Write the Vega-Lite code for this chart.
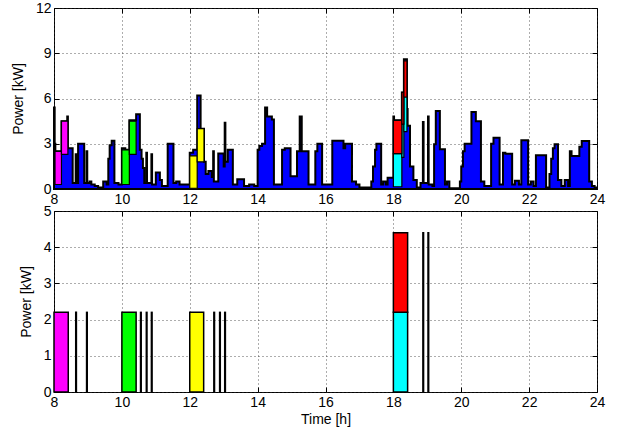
{
  "$schema": "https://vega.github.io/schema/vega-lite/v6.json",
  "padding": {"left": 10, "top": 0, "right": 31, "bottom": 5},
  "autosize": {"type": "pad"},
  "background": "white",
  "config": {
    "font": "Liberation Sans",
    "view": {"stroke": "black", "strokeWidth": 1},
    "axis": {
      "domain": false,
      "tickColor": "black",
      "tickSize": -5,
      "labelPadding": 8,
      "labelFlush": false,
      "labelFontSize": 14,
      "labelColor": "black",
      "labelFont": "Liberation Sans",
      "titleFont": "Liberation Sans",
      "titleFontSize": 14,
      "titleFontWeight": "normal",
      "titleColor": "black",
      "titlePadding": 10,
      "gridColor": "#333333",
      "gridDash": [1, 3],
      "gridOpacity": 0.8
    }
  },
  "datasets": {
    "load": [
      {"t": 8.00, "p": 5.4}, {"t": 8.02, "p": 3.0}, {"t": 8.04, "p": 2.5}, {"t": 8.22, "p": 4.5}, {"t": 8.39, "p": 4.8},
      {"t": 8.41, "p": 2.7}, {"t": 8.55, "p": 0.4}, {"t": 8.64, "p": 2.3}, {"t": 8.66, "p": 0.4}, {"t": 8.71, "p": 3.0},
      {"t": 8.89, "p": 0.4}, {"t": 8.96, "p": 2.5}, {"t": 8.98, "p": 0.4}, {"t": 9.05, "p": 0.5}, {"t": 9.10, "p": 0.3},
      {"t": 9.20, "p": 0.2}, {"t": 9.30, "p": 0.1}, {"t": 9.45, "p": 0.5}, {"t": 9.55, "p": 0.3}, {"t": 9.60, "p": 2.0},
      {"t": 9.64, "p": 2.9}, {"t": 9.70, "p": 3.2}, {"t": 9.78, "p": 0.4}, {"t": 9.90, "p": 0.3}, {"t": 10.00, "p": 2.7},
      {"t": 10.10, "p": 2.6}, {"t": 10.22, "p": 4.55}, {"t": 10.42, "p": 4.95}, {"t": 10.53, "p": 2.6}, {"t": 10.58, "p": 2.0},
      {"t": 10.62, "p": 1.4}, {"t": 10.66, "p": 0.4}, {"t": 10.72, "p": 2.4}, {"t": 10.74, "p": 0.4}, {"t": 10.87, "p": 2.3},
      {"t": 10.89, "p": 0.3}, {"t": 11.00, "p": 1.1}, {"t": 11.12, "p": 0.6}, {"t": 11.18, "p": 0.2}, {"t": 11.35, "p": 3.0},
      {"t": 11.52, "p": 0.4}, {"t": 11.60, "p": 0.5}, {"t": 11.70, "p": 0.3}, {"t": 12.00, "p": 2.4}, {"t": 12.10, "p": 2.6},
      {"t": 12.22, "p": 6.2}, {"t": 12.32, "p": 4.0}, {"t": 12.42, "p": 1.8}, {"t": 12.47, "p": 1.0}, {"t": 12.55, "p": 1.2},
      {"t": 12.65, "p": 0.8}, {"t": 12.69, "p": 2.5}, {"t": 12.71, "p": 0.5}, {"t": 12.84, "p": 2.35}, {"t": 13.00, "p": 1.5},
      {"t": 13.03, "p": 4.4}, {"t": 13.05, "p": 1.8}, {"t": 13.12, "p": 2.6}, {"t": 13.27, "p": 0.3}, {"t": 13.40, "p": 0.65},
      {"t": 13.60, "p": 0.2}, {"t": 13.75, "p": 0.3}, {"t": 13.90, "p": 0.2}, {"t": 14.00, "p": 2.6}, {"t": 14.05, "p": 2.85},
      {"t": 14.13, "p": 3.0}, {"t": 14.22, "p": 5.4}, {"t": 14.28, "p": 4.8}, {"t": 14.42, "p": 4.6}, {"t": 14.48, "p": 0.3},
      {"t": 14.72, "p": 2.6}, {"t": 14.80, "p": 2.7}, {"t": 14.97, "p": 0.85}, {"t": 15.16, "p": 2.5}, {"t": 15.24, "p": 4.8},
      {"t": 15.30, "p": 2.5}, {"t": 15.50, "p": 0.3}, {"t": 15.70, "p": 2.5}, {"t": 15.76, "p": 3.0}, {"t": 15.90, "p": 0.3},
      {"t": 16.20, "p": 3.2}, {"t": 16.53, "p": 2.7}, {"t": 16.58, "p": 3.0}, {"t": 16.78, "p": 0.5}, {"t": 16.90, "p": 0.3},
      {"t": 17.00, "p": 0.1}, {"t": 17.35, "p": 0.5}, {"t": 17.40, "p": 1.5}, {"t": 17.46, "p": 2.6}, {"t": 17.50, "p": 3.0},
      {"t": 17.64, "p": 0.3}, {"t": 17.70, "p": 0.5}, {"t": 17.78, "p": 0.3}, {"t": 17.83, "p": 0.75}, {"t": 18.00, "p": 4.8},
      {"t": 18.02, "p": 4.55}, {"t": 18.25, "p": 6.4}, {"t": 18.31, "p": 8.6}, {"t": 18.40, "p": 5.3}, {"t": 18.42, "p": 4.2},
      {"t": 18.49, "p": 1.5}, {"t": 18.59, "p": 0.6}, {"t": 18.69, "p": 0.1}, {"t": 18.80, "p": 0.4}, {"t": 18.87, "p": 4.45},
      {"t": 18.89, "p": 0.4}, {"t": 19.02, "p": 4.8}, {"t": 19.04, "p": 0.3}, {"t": 19.15, "p": 0.2}, {"t": 19.20, "p": 2.96},
      {"t": 19.25, "p": 5.17}, {"t": 19.37, "p": 2.63}, {"t": 19.52, "p": 0.3}, {"t": 19.58, "p": 0.5}, {"t": 19.65, "p": 0.05},
      {"t": 19.96, "p": 0.5}, {"t": 20.00, "p": 1.5}, {"t": 20.05, "p": 2.5}, {"t": 20.10, "p": 3.0}, {"t": 20.30, "p": 5.1},
      {"t": 20.43, "p": 4.5}, {"t": 20.58, "p": 0.5}, {"t": 20.68, "p": 0.2}, {"t": 20.88, "p": 3.0}, {"t": 20.95, "p": 3.4},
      {"t": 21.13, "p": 0.3}, {"t": 21.23, "p": 2.4}, {"t": 21.30, "p": 2.34}, {"t": 21.50, "p": 0.3}, {"t": 21.58, "p": 0.55},
      {"t": 21.70, "p": 0.3}, {"t": 21.77, "p": 3.23}, {"t": 21.97, "p": 0.3}, {"t": 22.05, "p": 0.5}, {"t": 22.13, "p": 0.2},
      {"t": 22.20, "p": 2.23}, {"t": 22.50, "p": 0.1}, {"t": 22.60, "p": 1.0}, {"t": 22.65, "p": 2.0}, {"t": 22.70, "p": 2.7},
      {"t": 22.75, "p": 2.96}, {"t": 22.85, "p": 0.6}, {"t": 22.95, "p": 0.2}, {"t": 23.05, "p": 0.6}, {"t": 23.15, "p": 0.2},
      {"t": 23.20, "p": 2.5}, {"t": 23.25, "p": 2.19}, {"t": 23.48, "p": 2.8}, {"t": 23.55, "p": 3.18}, {"t": 23.77, "p": 0.5},
      {"t": 23.85, "p": 0.2}, {"t": 23.93, "p": 0.1}, {"t": 24.00, "p": 0.1}
    ],
    "evTop": [
      {"t0": 8.03, "t1": 8.22, "lo": 0.3, "hi": 2.5, "ev": "m"},
      {"t0": 8.22, "t1": 8.41, "lo": 2.3, "hi": 4.5, "ev": "m"},
      {"t0": 10.00, "t1": 10.22, "lo": 0.3, "hi": 2.6, "ev": "g"},
      {"t0": 10.22, "t1": 10.42, "lo": 2.3, "hi": 4.5, "ev": "g"},
      {"t0": 12.00, "t1": 12.22, "lo": 0.05, "hi": 2.2, "ev": "y"},
      {"t0": 12.22, "t1": 12.42, "lo": 1.8, "hi": 4.0, "ev": "y"},
      {"t0": 18.00, "t1": 18.25, "lo": 0.15, "hi": 2.35, "ev": "c"},
      {"t0": 18.25, "t1": 18.31, "lo": 2.1, "hi": 4.3, "ev": "c"},
      {"t0": 18.31, "t1": 18.40, "lo": 3.8, "hi": 6.1, "ev": "c"},
      {"t0": 18.00, "t1": 18.25, "lo": 2.35, "hi": 4.55, "ev": "r"},
      {"t0": 18.25, "t1": 18.31, "lo": 4.3, "hi": 6.4, "ev": "r"},
      {"t0": 18.31, "t1": 18.40, "lo": 6.1, "hi": 8.5, "ev": "r"}
    ],
    "evBottom": [
      {"t0": 8.00, "t1": 8.42, "lo": 0, "hi": 2.2, "ev": "m"},
      {"t0": 8.64, "t1": 8.66, "lo": 0, "hi": 2.2, "ev": "k"},
      {"t0": 8.96, "t1": 8.98, "lo": 0, "hi": 2.2, "ev": "k"},
      {"t0": 10.00, "t1": 10.42, "lo": 0, "hi": 2.2, "ev": "g"},
      {"t0": 10.55, "t1": 10.57, "lo": 0, "hi": 2.2, "ev": "k"},
      {"t0": 10.72, "t1": 10.74, "lo": 0, "hi": 2.2, "ev": "k"},
      {"t0": 10.87, "t1": 10.89, "lo": 0, "hi": 2.2, "ev": "k"},
      {"t0": 12.00, "t1": 12.41, "lo": 0, "hi": 2.2, "ev": "y"},
      {"t0": 12.71, "t1": 12.73, "lo": 0, "hi": 2.2, "ev": "k"},
      {"t0": 12.88, "t1": 12.90, "lo": 0, "hi": 2.2, "ev": "k"},
      {"t0": 13.03, "t1": 13.05, "lo": 0, "hi": 2.2, "ev": "k"},
      {"t0": 18.00, "t1": 18.42, "lo": 0, "hi": 2.2, "ev": "c"},
      {"t0": 18.00, "t1": 18.42, "lo": 2.2, "hi": 4.4, "ev": "r"},
      {"t0": 18.87, "t1": 18.89, "lo": 0, "hi": 4.4, "ev": "k"},
      {"t0": 19.02, "t1": 19.04, "lo": 0, "hi": 4.4, "ev": "k"}
    ]
  },
  "vconcat": [
    {
      "width": 543,
      "height": 181,
      "layer": [
        {
          "data": {"name": "load"},
          "mark": {"type": "area", "interpolate": "step-after", "fill": "#0000ff", "stroke": "black", "strokeWidth": 2, "strokeJoin": "miter"},
          "encoding": {
            "x": {"field": "t", "type": "quantitative", "scale": {"domain": [8, 24], "nice": false},
                  "axis": {"values": [8, 10, 12, 14, 16, 18, 20, 22, 24], "title": null, "grid": true}},
            "y": {"field": "p", "type": "quantitative", "scale": {"domain": [0, 12], "nice": false},
                  "axis": {"values": [0, 3, 6, 9, 12], "title": "Power [kW]", "grid": true}}
          }
        },
        {
          "data": {"name": "evTop"},
          "mark": {"type": "rect", "stroke": "black", "strokeWidth": 1.2},
          "encoding": {
            "x": {"field": "t0", "type": "quantitative",
                  "axis": {"orient": "top", "values": [8, 10, 12, 14, 16, 18, 20, 22, 24], "labels": false, "title": null, "grid": false}},
            "x2": {"field": "t1"},
            "y": {"field": "lo", "type": "quantitative",
                  "axis": {"orient": "right", "values": [0, 3, 6, 9, 12], "labels": false, "title": null, "grid": false}},
            "y2": {"field": "hi"},
            "color": {"field": "ev", "type": "nominal", "legend": null,
                      "scale": {"domain": ["m", "g", "y", "c", "r", "k"], "range": ["#ff00ff", "#00ff00", "#ffff00", "#00ffff", "#ff0000", "#000000"]}}
          }
        }
      ],
      "resolve": {"axis": {"x": "independent", "y": "independent"}}
    },
    {
      "width": 543,
      "height": 181,
      "layer": [
        {
          "data": {"name": "evBottom"},
          "mark": {"type": "rect", "stroke": "black", "strokeWidth": 1.5},
          "encoding": {
            "x": {"field": "t0", "type": "quantitative", "scale": {"domain": [8, 24], "nice": false},
                  "axis": {"values": [8, 10, 12, 14, 16, 18, 20, 22, 24], "title": "Time [h]", "titlePadding": 3, "grid": true}},
            "x2": {"field": "t1"},
            "y": {"field": "lo", "type": "quantitative", "scale": {"domain": [0, 5], "nice": false},
                  "axis": {"values": [0, 1, 2, 3, 4, 5], "title": "Power [kW]", "grid": true}},
            "y2": {"field": "hi"},
            "color": {"field": "ev", "type": "nominal", "legend": null,
                      "scale": {"domain": ["m", "g", "y", "c", "r", "k"], "range": ["#ff00ff", "#00ff00", "#ffff00", "#00ffff", "#ff0000", "#000000"]}}
          }
        },
        {
          "data": {"name": "evBottom"},
          "mark": {"type": "rect", "opacity": 0},
          "encoding": {
            "x": {"field": "t0", "type": "quantitative",
                  "axis": {"orient": "top", "values": [8, 10, 12, 14, 16, 18, 20, 22, 24], "labels": false, "title": null, "grid": false}},
            "x2": {"field": "t1"},
            "y": {"field": "lo", "type": "quantitative",
                  "axis": {"orient": "right", "values": [0, 1, 2, 3, 4, 5], "labels": false, "title": null, "grid": false}},
            "y2": {"field": "hi"}
          }
        }
      ],
      "resolve": {"axis": {"x": "independent", "y": "independent"}}
    }
  ],
  "spacing": 22,
  "bounds": "flush"
}
